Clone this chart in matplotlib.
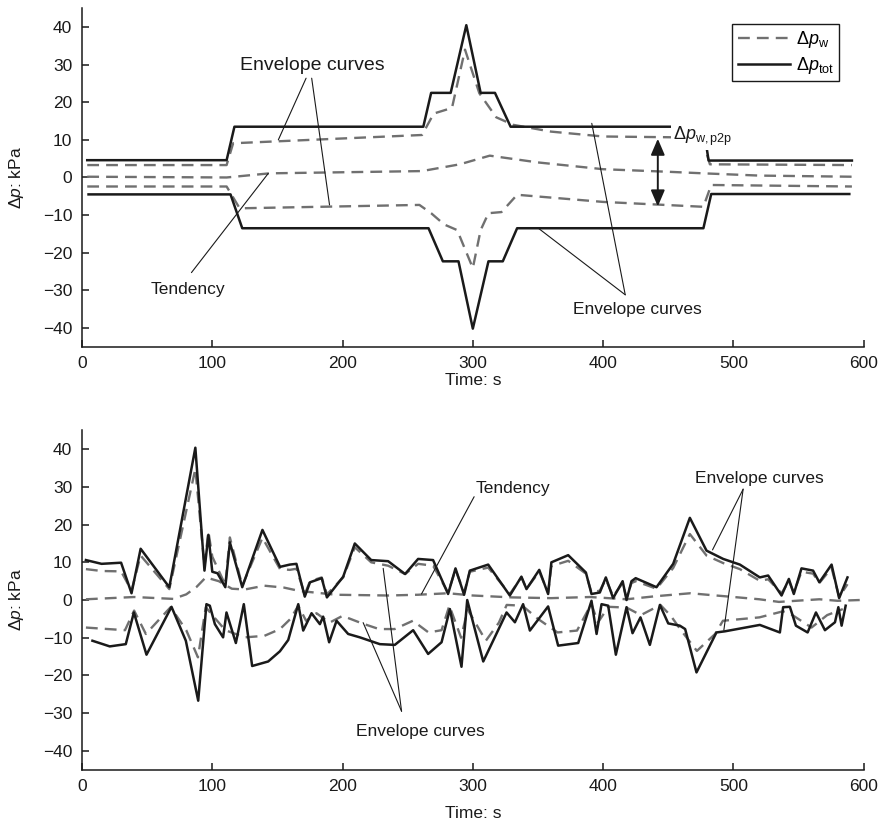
import numpy as np
import matplotlib.pyplot as plt

plt.rcParams['font.family'] = ['Liberation Sans', 'DejaVu Sans']
plt.rcParams['mathtext.fontset'] = 'custom'
plt.rcParams['mathtext.rm'] = 'Liberation Sans'
plt.rcParams['mathtext.it'] = 'Liberation Sans:italic'

BLACK = '#1a1a1a'
GRAY = '#707070'
DASH = (0, (5, 3))

# ---- top panel: step-like test (s, kPa) ----
top_tot_hi_t = [4, 111, 117, 262, 268, 283, 295, 306, 317, 329, 477, 481, 591]
top_tot_hi = [4.6, 4.6, 13.5, 13.5, 22.5, 22.5, 40.5, 22.5, 22.5, 13.5, 13.5, 4.5, 4.5]
top_tot_lo_t = [5, 114, 123, 266, 277, 289, 300, 312, 323, 334, 477, 483, 589]
top_tot_lo = [-4.5, -4.5, -13.5, -13.5, -22.3, -22.3, -40.2, -22.3, -22.3, -13.5, -13.5, -4.4, -4.4]

top_w_hi_t = [4, 111, 116, 261, 270, 284, 294, 305, 318, 331, 360, 400, 451, 476, 482, 591]
top_w_hi = [3.3, 3.3, 9.1, 11.3, 17.0, 18.5, 34.0, 22.4, 16.0, 14.0, 12.2, 10.9, 10.7, 10.5, 3.5, 3.3]
top_w_lo_t = [4, 111, 121, 259, 268, 278, 288, 300, 306, 312, 322, 334, 400, 477, 483, 591]
top_w_lo = [-2.4, -2.4, -8.2, -7.3, -9.5, -12.5, -14.0, -24.1, -14.0, -9.5, -9.2, -4.6, -6.5, -7.8, -2.0, -2.4]
top_trend_t = [4, 111, 144, 261, 290, 313, 350, 400, 451, 477, 520, 591]
top_trend = [0.2, 0.0, 1.1, 1.7, 3.5, 5.8, 4.0, 2.2, 1.5, 1.1, 0.5, 0.2]

# ---- bottom panel: irregular test ----
bot_tot_hi_t = [3, 15, 30, 38, 45, 67, 87, 94, 97, 100, 104, 110, 113.5, 123, 138.5, 152,
                159.5, 164.6, 171, 175, 184, 188, 200.5, 209.4, 222, 235, 248, 258, 269.5,
                281, 286.7, 293.3, 297.7, 311.8, 328.4, 337.3, 341.2, 351, 357.8, 360.3,
                373.2, 386.8, 391.1, 397.5, 402.1, 407.7, 415, 418, 421.8, 425, 441, 453.8,
                466.6, 479.4, 492.2, 505, 520.3, 526.7, 537, 542.6, 546.4, 552.3, 561.2,
                566, 575.4, 581.2, 587.6]
bot_tot_hi = [10.6, 9.6, 9.9, 1.8, 13.6, 3.4, 40.4, 7.8, 17.3, 7.5, 7.1, 3.4, 15.3, 3.4, 18.6,
              8.8, 9.4, 9.6, 0.9, 4.7, 5.8, 0.7, 6.2, 15.0, 10.6, 10.3, 6.9, 10.9, 10.6, 1.6,
              8.4, 1.4, 7.8, 9.4, 1.2, 6.2, 2.9, 8.0, 1.6, 10.0, 11.9, 7.3, 1.6, 2.0, 6.0, 0.5,
              5.0, 0.0, 5.0, 5.8, 3.4, 9.6, 21.8, 13.1, 10.9, 9.4, 6.0, 6.5, 1.2, 5.6, 1.6,
              8.4, 7.8, 4.7, 9.4, 0.5, 6.0]
bot_w_hi = [8.2, 7.7, 7.6, 2.5, 11.8, 2.9, 34.8, 9.0, 18.2, 11.5, 8.5, 4.0, 16.6, 3.8, 16.5,
            8.2, 8.0, 8.3, 1.5, 5.0, 6.0, 1.5, 6.0, 14.0, 10.0, 9.1, 6.9, 9.6, 9.1, 2.0, 8.0,
            2.0, 7.5, 8.6, 1.6, 6.0, 3.0, 7.5, 2.0, 9.0, 10.4, 7.0, 2.0, 2.5, 5.5, 1.0, 4.5,
            0.5, 4.5, 5.0, 3.0, 8.5, 17.5, 11.8, 9.8, 8.2, 5.1, 5.5, 1.8, 5.0, 2.0, 7.5, 7.0,
            4.5, 8.5, 0.8, 4.2]

bot_tot_lo_t = [8, 21.3, 33.6, 39.8, 49.5, 68.7, 79.7, 89.2, 95.5, 98.1, 102, 108.3, 110.9,
                118.1, 124.2, 130.6, 142.9, 151.9, 158.3, 166, 169.8, 176.2, 182.6, 185.1,
                189.7, 195.4, 204.3, 213.3, 228.6, 240.1, 254.2, 265.7, 276, 282.4, 291.3,
                295.7, 308, 325.9, 332.3, 338.6, 343.8, 357.8, 365.5, 380.9, 391.1, 395,
                398.8, 403.9, 409.8, 418, 422.6, 428.7, 435.9, 443.6, 450, 458.9, 463,
                471.7, 487, 493.5, 520.3, 535.7, 538.2, 543.4, 548, 557, 563.4, 570.3,
                578, 580.6, 583.1, 586.2]
bot_tot_lo = [-10.8, -12.3, -11.7, -3.3, -14.5, -1.8, -10.8, -26.7, -1.1, -1.5, -6.4, -9.9,
              -3.3, -11.4, -1.1, -17.5, -16.3, -13.6, -10.6, -1.1, -8.1, -3.5, -6.4, -4.4,
              -11.2, -5.5, -9.0, -9.9, -11.7, -11.9, -8.0, -14.3, -11.2, -2.4, -17.7, 0.0,
              -16.3, -3.3, -5.9, -1.1, -8.1, -1.7, -12.1, -11.4, -0.2, -9.0, -1.1, -1.5,
              -14.5, -1.9, -8.8, -4.6, -11.9, -1.3, -6.2, -6.8, -7.7, -19.2, -8.6, -8.3,
              -6.6, -8.6, -1.9, -1.8, -6.8, -8.6, -3.3, -8.0, -5.9, -1.9, -6.8, -1.5]

bot_w_lo_t = [3, 20, 33, 40, 49, 68, 80, 89, 95, 100, 110, 125, 140, 152, 160, 166, 172, 180,
              190, 200, 215, 228, 240, 254, 266, 276, 282, 291, 296, 310, 320, 326, 338, 350,
              365, 380, 391, 396, 404, 418, 429, 444, 452, 460, 472, 486, 492, 520, 538, 544,
              560, 572, 584]
bot_w_lo = [-7.3, -7.7, -8.0, -2.8, -9.0, -1.9, -8.0, -15.2, -1.9, -4.0, -8.0, -9.9, -9.5,
            -7.7, -5.0, -1.5, -5.5, -3.5, -6.0, -4.2, -6.2, -7.7, -7.7, -5.5, -8.6, -8.0,
            -1.5, -10.0, -2.5, -10.8, -6.0, -1.3, -1.5, -5.0, -8.6, -8.1, -1.0, -6.0, -1.8,
            -2.0, -4.0, -1.3, -4.2, -8.1, -13.5, -9.0, -5.5, -4.6, -3.0, -3.7, -7.3, -4.0,
            -2.4]
bot_trend_t = [3, 40, 70, 80, 88, 95, 105, 115, 125, 140, 155, 167, 195, 235, 258, 281, 300,
               330, 360, 390, 418, 440, 467, 480, 497, 520, 535, 566, 580, 597]
bot_trend = [0.2, 0.8, 0.3, 1.5, 3.5, 6.0, 5.0, 3.0, 2.8, 3.8, 3.3, 2.4, 1.4, 1.2, 1.4, 1.8,
             1.2, 0.7, 0.5, 0.8, 0.2, 1.0, 1.8, 1.4, 0.9, 0.2, -0.5, 0.2, -0.2, 0.0]

y_ticks = [-40, -30, -20, -10, 0, 10, 20, 30, 40]
x_ticks = [0, 100, 200, 300, 400, 500, 600]

fig = plt.figure(figsize=(8.8, 8.27), dpi=100)
ax1 = fig.add_axes([0.0932, 0.5808, 0.8882, 0.4092])
ax2 = fig.add_axes([0.0932, 0.0693, 0.8882, 0.4103])


def style(ax, xlab_y):
    ax.set_xlim(0, 600)
    ax.set_ylim(-45, 45)
    ax.set_xticks(x_ticks)
    ax.set_yticks(y_ticks)
    ax.spines['top'].set_visible(False)
    ax.spines['right'].set_visible(False)
    for s in ('left', 'bottom'):
        ax.spines[s].set_linewidth(1.1)
        ax.spines[s].set_color(BLACK)
    ax.tick_params(direction='in', length=5, width=1.1, pad=7, labelsize=12.5,
                   colors=BLACK)
    ax.set_xlabel('Time: s', fontsize=12.5, color=BLACK)
    ax.xaxis.set_label_coords(0.5, xlab_y)
    ax.set_ylabel(r'$\Delta p$: kPa', fontsize=12.5, color=BLACK)
    ax.yaxis.set_label_coords(-0.072, 0.5)


def leader(ax, start, end):
    ax.annotate('', xy=end, xytext=start,
                arrowprops=dict(arrowstyle='-', lw=0.8, color=BLACK,
                                shrinkA=0, shrinkB=0))


# top panel
ax1.plot(top_w_hi_t, top_w_hi, color=GRAY, lw=1.7, ls=DASH, label=r'$\Delta p_{\mathrm{w}}$')
ax1.plot(top_w_lo_t, top_w_lo, color=GRAY, lw=1.7, ls=DASH)
ax1.plot(top_trend_t, top_trend, color=GRAY, lw=1.7, ls=DASH)
ax1.plot(top_tot_hi_t, top_tot_hi, color=BLACK, lw=1.8, label=r'$\Delta p_{\mathrm{tot}}$')
ax1.plot(top_tot_lo_t, top_tot_lo, color=BLACK, lw=1.8)
style(ax1, -0.078)

ax1.text(177, 29.7, 'Envelope curves', fontsize=14, ha='center', va='center', color=BLACK)
leader(ax1, (172, 26.4), (150.7, 10.0))
leader(ax1, (176.3, 26.4), (190, -7.3))
ax1.text(81, -29.7, 'Tendency', fontsize=12.5, ha='center', va='center', color=BLACK)
leader(ax1, (84, -25.3), (143, 1.1))
ax1.text(426, -35.2, 'Envelope curves', fontsize=12.5, ha='center', va='center', color=BLACK)
leader(ax1, (417, -31.2), (350.3, -13.5))
leader(ax1, (417, -31.2), (391.3, 14.4))

ax1.annotate('', xy=(442, 10.3), xytext=(442, -7.7),
             arrowprops=dict(arrowstyle='<|-|>,head_length=0.7,head_width=0.3',
                             lw=1.4, color=BLACK, shrinkA=0, shrinkB=0,
                             mutation_scale=14))
ax1.text(454, 10.9, r'$\Delta p_{\mathrm{w,p2p}}$', fontsize=13, ha='left', va='center',
         color=BLACK, zorder=5,
         bbox=dict(facecolor='white', edgecolor='none', pad=1.5))

leg = ax1.legend(loc='upper right', bbox_to_anchor=(0.9685, 0.9536), fontsize=13,
                 frameon=True, fancybox=False, framealpha=1, edgecolor=BLACK,
                 handlelength=2.9, handletextpad=0.3, borderpad=0.3, labelspacing=0.25,
                 borderaxespad=0)
leg.get_frame().set_linewidth(1.0)

# bottom panel
ax2.plot(bot_tot_hi_t, bot_w_hi, color=GRAY, lw=1.7, ls=DASH)
ax2.plot(bot_w_lo_t, bot_w_lo, color=GRAY, lw=1.7, ls=DASH)
ax2.plot(bot_trend_t, bot_trend, color=GRAY, lw=1.7, ls=DASH)
ax2.plot(bot_tot_hi_t, bot_tot_hi, color=BLACK, lw=1.8)
ax2.plot(bot_tot_lo_t, bot_tot_lo, color=BLACK, lw=1.8)
style(ax2, -0.107)

ax2.text(331, 29.7, 'Tendency', fontsize=12.5, ha='center', va='center', color=BLACK)
leader(ax2, (301, 27.4), (260.6, 1.6))
ax2.text(520, 32.3, 'Envelope curves', fontsize=12.5, ha='center', va='center', color=BLACK)
leader(ax2, (507.5, 29.4), (484, 13.3))
leader(ax2, (507.5, 29.4), (492.7, -8.0))
ax2.text(260, -34.9, 'Envelope curves', fontsize=12.5, ha='center', va='center', color=BLACK)
leader(ax2, (245.3, -29.5), (215.8, -6.0))
leader(ax2, (245.3, -29.5), (231.2, 8.4))

fig.savefig('out.png', dpi=100)
